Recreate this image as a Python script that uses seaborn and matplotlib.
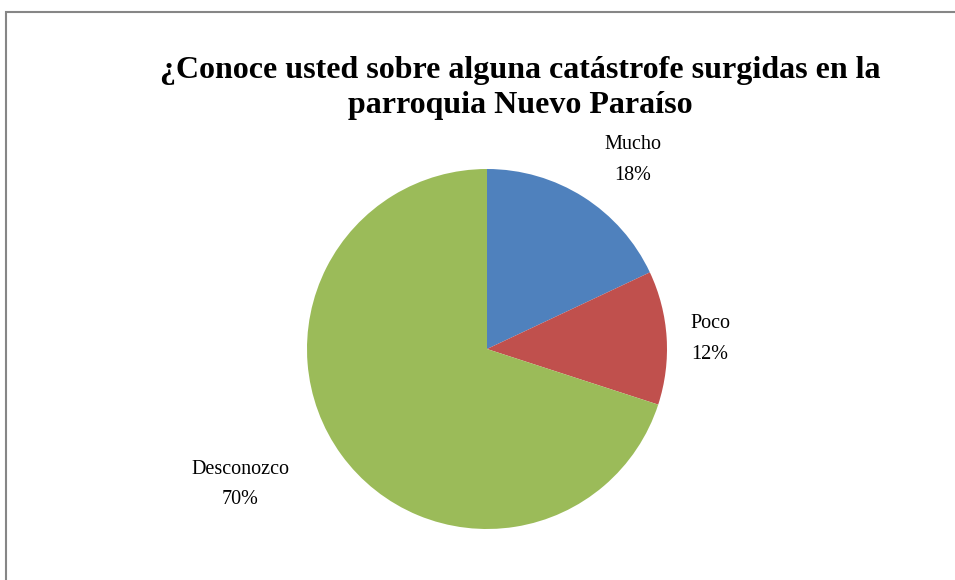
import matplotlib
matplotlib.use('Agg')
import matplotlib.pyplot as plt
import seaborn as sns
from matplotlib.patches import Rectangle

categories = ['Mucho', 'Poco', 'Desconozco']
shares = [18, 12, 70]
colors = ['#4F81BD', '#C0504D', '#9BBB59']
title = '¿Conoce usted sobre alguna catástrofe surgidas en la\nparroquia Nuevo Paraíso'

# label anchor points (data coords, radius = 1)
label_pos = [(0.81, 1.05), (1.24, 0.055), (-1.37, -0.755)]

sns.set_theme(style='white')
plt.rcParams['font.family'] = ['Liberation Serif', 'DejaVu Serif']
plt.rcParams['text.color'] = 'black'

fig = plt.figure(figsize=(9.55, 5.8), dpi=100)
W, H = 955, 580

# chart border (runs off the right and bottom edges)
fig.patches.append(Rectangle((6 / W, -0.1), 1.1, (H - 12) / H + 0.1,
                             transform=fig.transFigure, fill=False,
                             edgecolor='#868686', linewidth=1.5))

cx, cy, r = 487, H - 349, 180
ax = fig.add_axes([(cx - r) / W, (cy - r) / H, 2 * r / W, 2 * r / H])
ax.pie(shares, colors=colors, startangle=90, counterclock=False,
       radius=1, wedgeprops=dict(linewidth=0))
ax.set_xlim(-1, 1)
ax.set_ylim(-1, 1)
ax.set_aspect('equal')
ax.axis('off')

for name, val, (x, y) in zip(categories, shares, label_pos):
    ax.text(x, y, f'{name}\n{val}%', ha='center', va='center',
            fontsize=14.5, linespacing=1.8, clip_on=False, color='black')

fig.text(520 / W, 1 - 88 / H, title, ha='center', va='center',
         fontsize=23, fontweight='bold', linespacing=1.3, color='black')

fig.savefig('out.png', dpi=100)
